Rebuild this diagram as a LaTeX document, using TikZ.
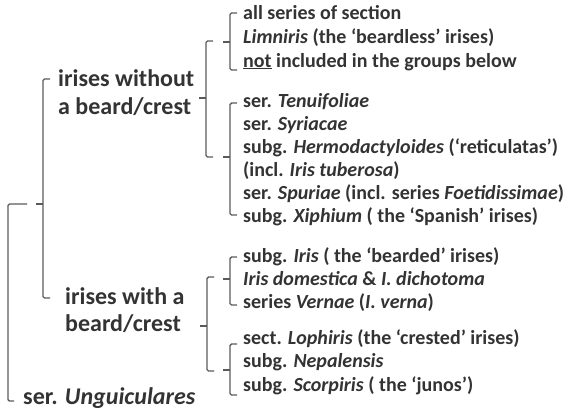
\documentclass[tikz,border=0pt]{standalone}
\usepackage{fontspec}
\setmainfont{Carlito}
\definecolor{txt}{HTML}{333333}
\definecolor{brkc}{HTML}{5A5A5A}
\tikzset{
  brk/.style={draw=brkc, line width=1.4bp, rounded corners=1.5bp},
  lbl/.style={anchor=west, inner sep=0pt, text=txt, font=\fontsize{24bp}{28bp}\selectfont\bfseries, text height=17bp, text depth=5bp},
  itm/.style={anchor=west, inner sep=0pt, text=txt, font=\fontsize{20bp}{24bp}\selectfont\bfseries, text height=14bp, text depth=4bp}
}
\newcommand\mybrk[4]{%
  \draw[brk] (#1+7,#2) -- (#1,#2) -- (#1,#3) -- (#1+7,#3);
  \draw[brk] (#1-7,#4) -- (#1,#4);}
\begin{document}
\begin{tikzpicture}[x=1bp,y=-1bp]
\useasboundingbox (0,0) rectangle (568,412);
% brackets
\draw[brk] (27,204) -- (8,204) -- (8,401) -- (14,401);
\mybrk{43}{79}{298}{204}
\mybrk{206}{41}{157}{98}
\mybrk{230}{13}{70}{42}
\mybrk{230}{103}{215}{157}
\mybrk{207}{277}{371}{326}
\mybrk{230}{257}{305}{279}
\mybrk{230}{344}{395}{370}
% labels
\node[lbl] (l1a) at (58,80) {irises without};
\node[lbl] (l1b) at (58,108) {a beard/crest};
\node[lbl] (l2a) at (65,298) {irises with a};
\node[lbl] (l2b) at (65,325) {beard/crest};
\node[lbl] (root) at (23,398) {ser. \textit{Unguiculares}};
% items
\node[itm] (a1) at (243,14) {all series of section};
\node[itm] (a2) at (243,38) {\textit{Limniris} (the ‘beardless’ irises)};
\node[itm] (a3) at (243,62) {\underline{not} included in the groups below};
\node[itm] (b1) at (243,102) {ser. \textit{Tenuifoliae}};
\node[itm] (b2) at (243,125) {ser. \textit{Syriacae}};
\node[itm] (b3) at (243,148) {subg. \textit{Hermodactyloides} (‘reticulatas’)};
\node[itm] (b4) at (243,171) {(incl. \textit{Iris tuberosa})};
\node[itm] (b5) at (243,194) {ser. \textit{Spuriae} (incl. series \textit{Foetidissimae})};
\node[itm] (b6) at (243,217) {subg. \textit{Xiphium} ( the ‘Spanish’ irises)};
\node[itm] (c1) at (243,257) {subg. \textit{Iris} ( the ‘bearded’ irises)};
\node[itm] (c2) at (243,280) {\textit{Iris domestica} \& \textit{I. dichotoma}};
\node[itm] (c3) at (243,303) {series \textit{Vernae} (\textit{I. verna})};
\node[itm] (d1) at (243,339) {sect. \textit{Lophiris} (the ‘crested’ irises)};
\node[itm] (d2) at (243,362) {subg. \textit{Nepalensis}};
\node[itm] (d3) at (243,386) {subg. \textit{Scorpiris} ( the ‘junos’)};
\end{tikzpicture}
\end{document}
